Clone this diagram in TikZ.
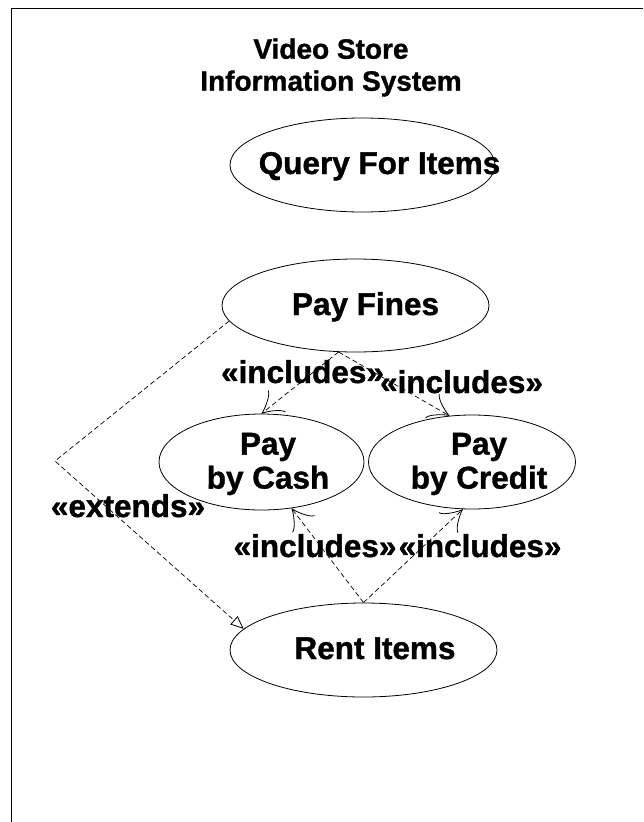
\documentclass[tikz,border=0pt]{standalone}
\usepackage{fontspec}
\setmainfont{Liberation Sans}[BoldFeatures={FakeBold=1.2}]
\usetikzlibrary{shapes.geometric,arrows.meta}
\begin{document}
\begin{tikzpicture}[x=1pt,y=-1pt,
  usecase/.style={draw,ellipse,line width=0.8pt,inner sep=0pt},
  uctext/.style={font=\bfseries\fontsize{31.5}{34}\selectfont,inner sep=0pt,align=center},
  titletext/.style={font=\bfseries\fontsize{28}{32}\selectfont,inner sep=0pt,align=center},
  stereo/.style={font=\bfseries\fontsize{31.5}{34}\selectfont,inner sep=0pt,anchor=base},
  dep/.style={line width=0.7pt,dash pattern=on 5pt off 3pt},
  incl/.style={dep,-{Classical TikZ Rightarrow[length=20pt,width=28pt,line width=0.8pt]}},
  extd/.style={dep,-{Triangle[open,length=13pt,width=11pt,line width=0.8pt]}}]
\useasboundingbox (0,0) rectangle (643,822);
\fill[white] (0,0) rectangle (643,822);

% system boundary (only its top and left sides lie on the page)
\draw[line width=1.5pt] (11.5,822) -- (11.5,8.5) -- (643,8.5);

% title
\node[titletext] (title) at (331,67.5) {Video Store\\Information System};

% use cases
\node[usecase,minimum width=265pt,minimum height=94pt] (qi) at (362.5,165) {};
\node[usecase,minimum width=267pt,minimum height=93pt] (pf) at (355.5,305.5) {};
\node[usecase,minimum width=205pt,minimum height=96pt] (pc) at (261.5,462) {};
\node[usecase,minimum width=207pt,minimum height=94pt] (pk) at (472,462) {};
\node[usecase,minimum width=267pt,minimum height=94pt] (ri) at (363.5,650) {};

\node[uctext,anchor=base] (qit) at (379.5,174) {Query For Items};
\node[uctext,anchor=base] (pft) at (365.5,315) {Pay Fines};
\node[uctext] (pct) at (268,464) {Pay\\by Cash};
\node[uctext] (pkt) at (479,464) {Pay\\by Credit};
\node[uctext,anchor=base] (rit) at (375,659) {Rent Items};

% dependencies
\coordinate (bend) at (55,461);
\draw[extd] (pf.187.6) -- (bend) -- (ri.170);
\draw[incl] (pf.250.7) -- (pc.north);
\draw[incl] (pf.250.7) -- (pk.116);
\draw[incl] (ri.north) -- (pc.303.8);
\draw[incl] (ri.north) -- (pk.259.4);

% stereotypes
\node[stereo] (l1) at (302.5,383) {«includes»};
\node[stereo] (l2) at (461.5,393) {«includes»};
\node[stereo] (l3) at (315,557) {«includes»};
\node[stereo] (l4) at (480,557) {«includes»};
\node[stereo] (l5) at (128,517) {«extends»};
\end{tikzpicture}
\end{document}
